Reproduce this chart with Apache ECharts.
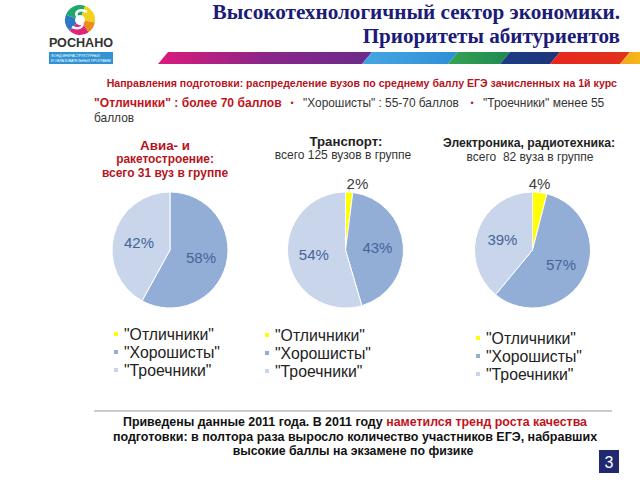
<!DOCTYPE html>
<html><head><meta charset="utf-8">
<script src="https://cdn.jsdelivr.net/npm/echarts@6/dist/echarts.min.js"></script>
<style>html,body{margin:0;padding:0;background:#fff;}#c{width:640px;height:480px;}</style>
</head><body><div id="c"></div>
<script>
const categories = ['"Отличники"', '"Хорошисты"', '"Троечники"'];
const aviaValues = [0, 58, 42];
const transportValues = [2, 43, 54];
const electronicsValues = [4, 57, 39];
const sliceColors = ['#ffff00', '#93aed6', '#c8d5ea'];

const SANS = '"Liberation Sans", Arial, sans-serif';
const SERIF = '"Liberation Serif", "Times New Roman", serif';
const chart = echarts.init(document.getElementById('c'), null, {renderer: 'svg'});

// font size that makes a text span a given width (layout helper)
const mctx = document.createElement('canvas').getContext('2d');
function fit(text, weight, family, width) {
  mctx.font = weight + ' 100px ' + family;
  return Math.round(100 * width / mctx.measureText(text).width * 10) / 10;
}
function fnt(text, weight, family, width) {
  return weight + ' ' + fit(text, weight, family, width) + 'px ' + family;
}

const legendFont = fit('"Хорошисты"', 'normal', SANS, 96);

function pieData(vals) {
  return vals.map((v, i) => {
    const d = {name: categories[i], value: v, itemStyle: {color: sliceColors[i]}};
    if (v === 0) { d.label = {show: false}; d.labelLine = {show: false}; }
    else if (i === 0) {
      d.label = {position: 'outside', color: '#404040', fontSize: 15};
      d.labelLine = {show: true, length: 7, length2: 0, lineStyle: {color: '#c8c8c8', width: 1}};
    }
    return d;
  });
}
function pie(vals, cx, dx) {
  return {
    type: 'pie', center: [cx, 250], radius: 58, startAngle: 90, clockwise: true,
    animation: false, silent: true,
    itemStyle: {borderColor: '#ffffff', borderWidth: 1},
    label: {show: true, position: 'inner', formatter: '{c}%', fontFamily: SANS, fontSize: 15, color: '#45649a'},
    labelLine: {show: false},
    labelLayout: function (p) { return p.dataIndex === 0 ? {dx: dx, dy: -2} : {}; },
    data: pieData(vals)
  };
}
function legend(left, top) {
  return {
    orient: 'vertical', left: left, top: top, data: categories, icon: 'rect',
    itemWidth: 6, itemHeight: 6, itemGap: 2, padding: 0, selectedMode: false,
    textStyle: {fontFamily: SANS, fontSize: legendFont, color: '#222'}
  };
}
function txt(x, y, text, font, fill, align) {
  return {type: 'text', x: x, y: y, silent: true,
    style: {text: text, font: font, fill: fill, textAlign: align || 'left', textVerticalAlign: 'middle'}};
}
// text fitted to a width
function ftxt(x, y, text, weight, family, width, fill, align) {
  return txt(x, y, text, fnt(text, weight, family, width), fill, align);
}

// colour stripe
const stripe = [
  [163, 367, ['#dc1a7c', '#8a2689', '#6c2a8c']],
  [367, 453, ['#45a6e4', '#2f8fd6']],
  [453, 505, ['#35a352', '#1f8a52']],
  [505, 555, ['#1e3d86', '#1b3579']],
  [555, 625, ['#e8261c', '#e0321c']],
  [625, 660, ['#f2a61a', '#f7d21a']]
];
const s = 5;
const stripeEls = stripe.map(seg => {
  const [a, b, cols] = seg;
  return {type: 'polygon', silent: true,
    shape: {points: [[a + s, 52], [b + s, 52], [b - s, 64], [a - s, 64]]},
    style: {fill: new echarts.graphic.LinearGradient(0, 0, 1, 0,
      cols.map((c, i) => ({offset: i / (cols.length - 1), color: c})))}};
});

// logo
const logoSegs = [
  [-160, -70, '#1fa86a'], [-70, 10, '#f4d11b'], [10, 55, '#f08a1c'],
  [55, 135, '#e2237a'], [135, 200, '#2b78c6']
];
const logoEls = logoSegs.map(g => ({type: 'sector', silent: true,
  shape: {cx: 80, cy: 20, r: 15, r0: 5, startAngle: g[0] * Math.PI / 180, endAngle: g[1] * Math.PI / 180},
  style: {fill: g[2]}}));
logoEls.push({type: 'bezierCurve', silent: true,
  shape: {x1: 87, y1: 12, cpx1: 80, cpy1: 8, cpx2: 72, cpy2: 12, x2: 79, y2: 19},
  style: {fill: 'none', stroke: '#ffffff', lineWidth: 2.5}});
logoEls.push({type: 'bezierCurve', silent: true,
  shape: {x1: 79, y1: 19, cpx1: 86, cpy1: 24, cpx2: 82, cpy2: 31, x2: 72, y2: 27},
  style: {fill: 'none', stroke: '#ffffff', lineWidth: 2.5}});

const bottom1a = 'Приведены данные 2011 года. В 2011 году ';
const bottom1b = 'наметился тренд роста качества';
const bottomSize = fit(bottom1a + bottom1b, 'bold', SANS, 465);

const graphics = [].concat(logoEls, stripeEls, [
  ftxt(81, 43, 'РОСНАНО', 'bold', SANS, 64, '#333', 'center'),
  {type: 'rect', silent: true, shape: {x: 49, y: 52, width: 64, height: 12}, style: {fill: '#2f93d3'}},
  txt(51, 56, 'ФОНД ИНФРАСТРУКТУРНЫХ', '3.5px ' + SANS, '#fff'),
  txt(51, 60.5, 'И ОБРАЗОВАТЕЛЬНЫХ ПРОГРАММ', '3.5px ' + SANS, '#fff'),
  ftxt(620, 12, 'Высокотехнологичный сектор экономики.', 'bold', SERIF, 407, '#1b1b78', 'right'),
  ftxt(620, 36, 'Приоритеты абитуриентов', 'bold', SERIF, 257, '#1b1b78', 'right'),
  ftxt(617, 83, 'Направления подготовки: распределение вузов по среднему баллу ЕГЭ зачисленных на 1й курс',
      'bold', SANS, 509, '#b5141d', 'right'),
  ftxt(94, 103, '"Отличники" : более 70 баллов', 'bold', SANS, 187, '#c0141c'),
  txt(292, 103, '•', '9px ' + SANS, '#c0141c', 'center'),
  ftxt(303, 103, '"Хорошисты" : 55-70 баллов', 'normal', SANS, 156, '#333'),
  txt(472, 103, '•', '9px ' + SANS, '#c0141c', 'center'),
  ftxt(483, 103, '"Троечники" менее 55', 'normal', SANS, 121, '#333'),
  ftxt(94, 118, 'баллов', 'normal', SANS, 40, '#333'),
  ftxt(165, 145, 'Авиа- и', 'bold', SANS, 50, '#b5141d', 'center'),
  ftxt(165, 159, 'ракетостроение:', 'bold', SANS, 98, '#b5141d', 'center'),
  ftxt(165, 173, 'всего 31 вуз в группе', 'bold', SANS, 126, '#b5141d', 'center'),
  ftxt(346, 141, 'Транспорт:', 'bold', SANS, 73, '#222', 'center'),
  ftxt(343, 155, 'всего 125 вузов в группе', 'normal', SANS, 137, '#333', 'center'),
  ftxt(529, 143, 'Электроника, радиотехника:', 'bold', SANS, 172, '#222', 'center'),
  ftxt(530, 157, 'всего  82 вуза в группе', 'normal', SANS, 127, '#333', 'center'),
  {type: 'line', silent: true, shape: {x1: 94, y1: 411, x2: 612, y2: 411}, style: {stroke: '#999', lineWidth: 1}},
  {type: 'text', x: 355, y: 422, silent: true,
    style: {text: '{k|' + bottom1a + '}{r|' + bottom1b + '}', textAlign: 'center', textVerticalAlign: 'middle',
      rich: {k: {fill: '#111', font: 'bold ' + bottomSize + 'px ' + SANS},
             r: {fill: '#c0141c', font: 'bold ' + bottomSize + 'px ' + SANS}}}},
  ftxt(355, 437, 'подготовки: в полтора раза выросло количество участников ЕГЭ, набравших', 'bold', SANS, 484, '#111', 'center'),
  ftxt(353, 451, 'высокие баллы на экзамене по физике', 'bold', SANS, 241, '#111', 'center'),
  {type: 'rect', silent: true, shape: {x: 599, y: 450, width: 20, height: 23}, style: {fill: '#1f2870'}},
  txt(609, 462, '3', '16px ' + SANS, '#ffffff', 'center')
]);

chart.setOption({
  animation: false,
  color: sliceColors,
  legend: [legend(112, 326), legend(263, 327), legend(474, 330)],
  series: [pie(aviaValues, 170, 0), pie(transportValues, 345.5, -8), pie(electronicsValues, 532.5, -17)],
  graphic: graphics
});
</script>
</body></html>
